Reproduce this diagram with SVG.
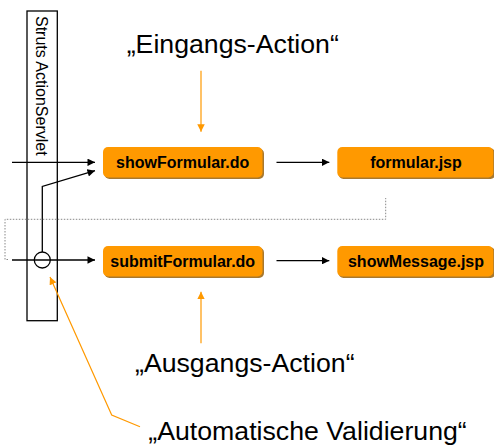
<svg xmlns="http://www.w3.org/2000/svg" width="494" height="448" viewBox="0 0 494 448">
<defs>
<style>
.box{fill:#ff9900}
.shadow{fill:#a8782e}
.lbl{font-family:"Liberation Sans",Arial,sans-serif;font-weight:bold;font-size:16px;fill:#000;text-anchor:middle}
.note{font-family:"Liberation Sans",Arial,sans-serif;font-size:26.7px;fill:#000}
.blk{fill:none;stroke:#000;stroke-width:1.3}
.org{fill:none;stroke:#ff9900;stroke-width:1.2}
.dot{fill:none;stroke:#888;stroke-width:1;stroke-dasharray:1.5 1.5}
</style>
<marker id="ab" viewBox="0 0 10 10" refX="10" refY="5" markerWidth="8" markerHeight="7.5" markerUnits="userSpaceOnUse" orient="auto">
<path d="M0,0 L10,5 L0,10 z" fill="#000"/>
</marker>
<marker id="ao" viewBox="0 0 10 10" refX="10" refY="5" markerWidth="7.5" markerHeight="7.5" markerUnits="userSpaceOnUse" orient="auto">
<path d="M0,0 L10,5 L0,10 z" fill="#ff9900"/>
</marker>
</defs>
<rect width="494" height="448" fill="#fff"/>

<g id="servlet">
<rect x="27" y="11" width="30.3" height="309.7" fill="none" stroke="#000" stroke-width="1.3"/>
<text class="note" style="font-size:16px" transform="translate(35.5,16) rotate(90)">Struts ActionServlet</text>
</g>

<g id="showFormular">
<rect class="shadow" x="104.5" y="148.5" width="159.5" height="30.5" rx="5"/>
<rect class="box" x="103" y="147" width="159.5" height="30.5" rx="5"/>
<text class="lbl" x="182.7" y="168.3">showFormular.do</text>
</g>

<g id="formular">
<rect class="shadow" x="338.5" y="148.5" width="157" height="30.5" rx="5"/>
<rect class="box" x="337.3" y="147" width="156" height="30.5" rx="5"/>
<text class="lbl" x="416" y="168.3">formular.jsp</text>
</g>

<g id="submitFormular">
<rect class="shadow" x="104.5" y="247.5" width="159.5" height="30.5" rx="5"/>
<rect class="box" x="103" y="246" width="159.5" height="30.5" rx="5"/>
<text class="lbl" x="182.7" y="266.7">submitFormular.do</text>
</g>

<g id="showMessage">
<rect class="shadow" x="338.5" y="247.5" width="157" height="30.5" rx="5"/>
<rect class="box" x="337.3" y="246" width="156" height="30.5" rx="5"/>
<text class="lbl" x="416" y="266.7">showMessage.jsp</text>
</g>

<g id="validator">
<circle cx="42.3" cy="260" r="8" fill="none" stroke="#000" stroke-width="1.3"/>
</g>

<g id="notes">
<text class="note" x="126.7" y="53.3">„Eingangs-Action“</text>
<text class="note" x="135" y="371.7">„Ausgangs-Action“</text>
<text class="note" x="148.3" y="440">„Automatische Validierung“</text>
</g>

<g id="connectors">
<line class="blk" x1="12" y1="162.3" x2="95" y2="162.3" marker-end="url(#ab)"/>
<polyline class="blk" points="42.3,252 42.3,186.5 95,170.7" marker-end="url(#ab)"/>
<line class="blk" x1="12" y1="260" x2="95" y2="260" marker-end="url(#ab)"/>
<line class="blk" x1="276.5" y1="162.3" x2="329.3" y2="162.3" marker-end="url(#ab)"/>
<line class="blk" x1="276.5" y1="260.7" x2="329.3" y2="260.7" marker-end="url(#ab)"/>
<path class="dot" d="M8,259.5 L5,259.5 L5,219.3 L385.7,219.3 L385.7,198"/>
<line class="org" x1="201" y1="70.7" x2="201" y2="131.7" marker-end="url(#ao)"/>
<line class="org" x1="201" y1="343.3" x2="201" y2="291.7" marker-end="url(#ao)"/>
<polyline class="org" points="140,426.7 111.7,415 50,277" marker-end="url(#ao)"/>
</g>
</svg>
